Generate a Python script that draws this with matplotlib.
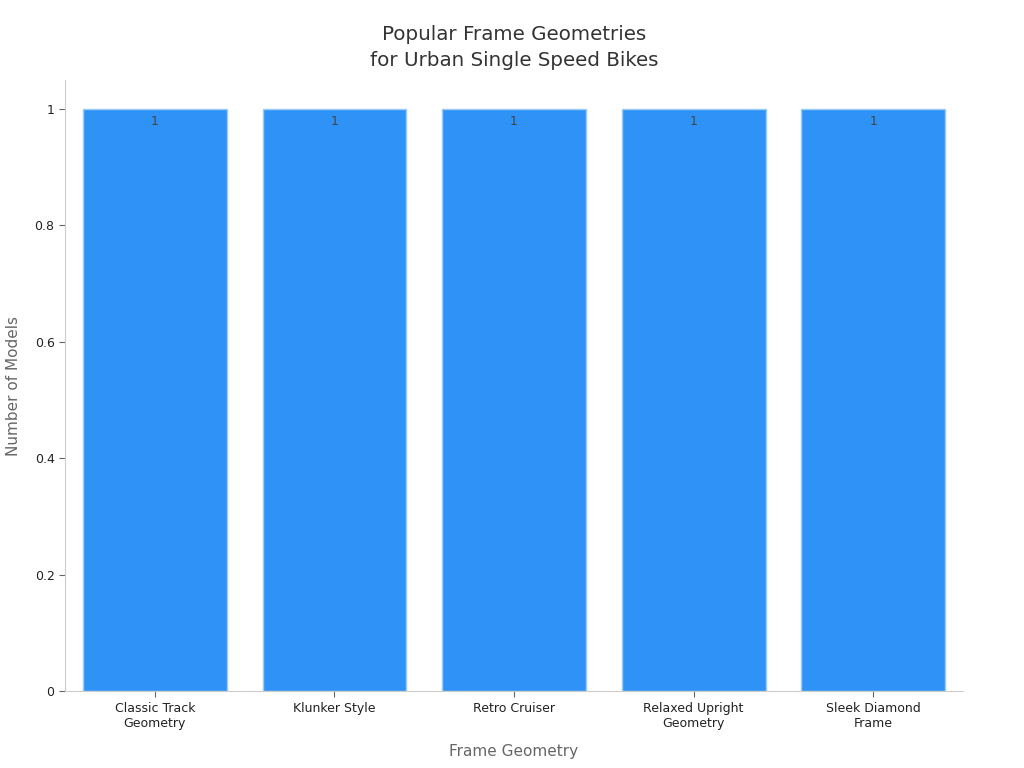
import matplotlib
matplotlib.use('Agg')
import matplotlib.pyplot as plt

# Data
geometries = ['Classic Track\nGeometry', 'Klunker Style', 'Retro Cruiser',
              'Relaxed Upright\nGeometry', 'Sleek Diamond\nFrame']
models = [1, 1, 1, 1, 1]

plt.rcParams['font.family'] = ['DejaVu Sans']

fig, ax = plt.subplots(figsize=(10.24, 7.68), dpi=100)
fig.subplots_adjust(left=0.0635, right=0.9405, top=0.896, bottom=0.1)

bars = ax.bar(range(len(geometries)), models, width=0.8,
              color='#2f92f7', edgecolor='#9ccbf5', linewidth=1)

for b, v in zip(bars, models):
    ax.text(b.get_x() + b.get_width() / 2, v - 0.01, str(v),
            ha='center', va='top', fontsize=9, color='#444444')

ax.set_xticks(range(len(geometries)))
ax.set_xticklabels(geometries, fontsize=9)
ax.set_xlim(-0.5, len(geometries) - 0.5)
ax.set_ylim(0, 1.05)
ax.set_yticks([0, 0.2, 0.4, 0.6, 0.8, 1])
ax.set_yticklabels(['0', '0.2', '0.4', '0.6', '0.8', '1'], fontsize=9)

ax.set_xlabel('Frame Geometry', fontsize=11, color='#666666', labelpad=10)
ax.set_ylabel('Number of Models', fontsize=11, color='#666666', labelpad=10)
ax.set_title('Popular Frame Geometries\nfor Urban Single Speed Bikes',
             fontsize=14.3, color='#333333', pad=10, linespacing=1.45)

for s in ['top', 'right']:
    ax.spines[s].set_visible(False)
for s in ['left', 'bottom']:
    ax.spines[s].set_color('#cccccc')
ax.tick_params(colors='#666666', labelcolor='#222222', length=4)

plt.savefig('out.png')
